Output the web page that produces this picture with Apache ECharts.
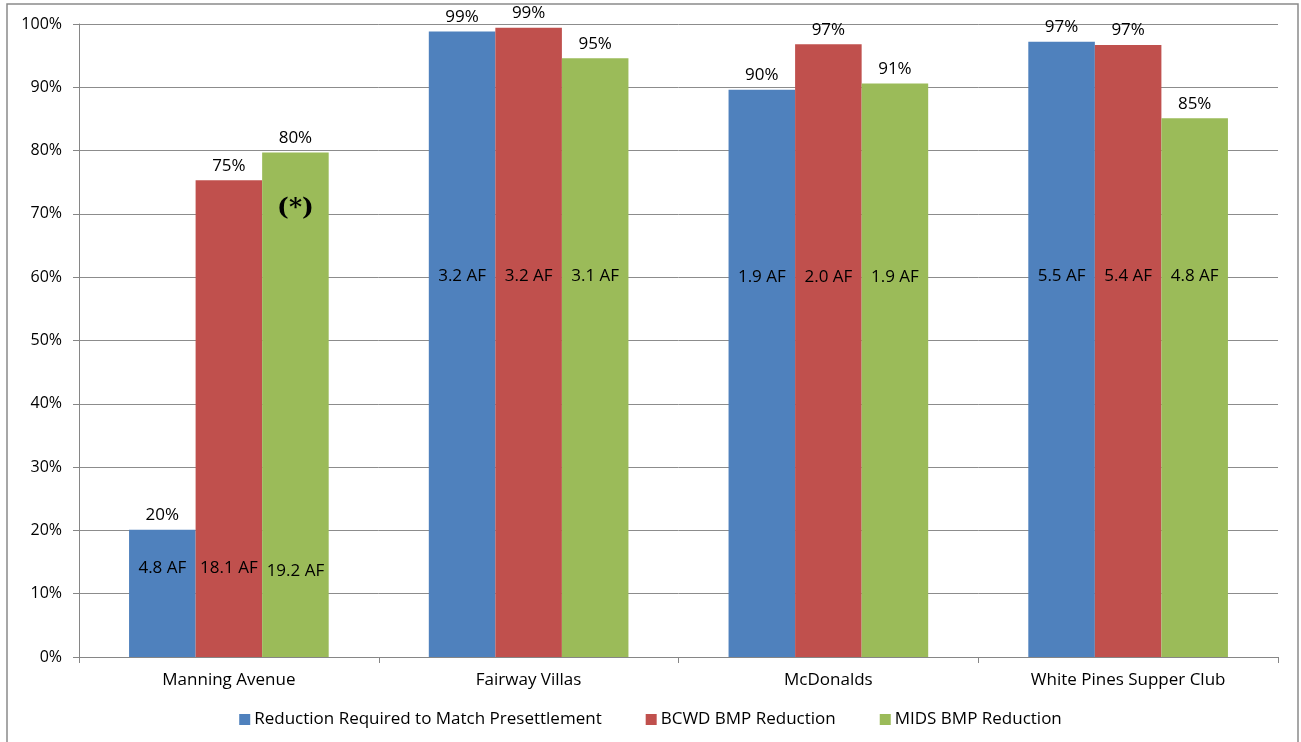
<!DOCTYPE html>
<html>
<head>
<meta charset="utf-8">
<script src="https://cdn.jsdelivr.net/npm/echarts@6/dist/echarts.min.js"></script>
<style>
  html, body { margin: 0; padding: 0; background: #fff; }
  #chart { width: 1301px; height: 742px; }
</style>
</head>
<body>
<div id="chart"></div>
<script>
// Sites compared
const categories = ['Manning Avenue', 'Fairway Villas', 'McDonalds', 'White Pines Supper Club'];

// Percent reductions per site
const requiredReduction = [20.1, 98.8, 89.6, 97.2];
const bcwdReduction = [75.3, 99.4, 96.8, 96.7];
const midsReduction = [79.7, 94.6, 90.6, 85.1];

// Volumes (acre-feet) written inside each bar
const requiredAF = [4.8, 3.2, 1.9, 5.5];
const bcwdAF = [18.1, 3.2, 2.0, 5.4];
const midsAF = [19.2, 3.1, 1.9, 4.8];

const yTicks = [0, 10, 20, 30, 40, 50, 60, 70, 80, 90, 100];
const seriesNames = ['Reduction Required to Match Presettlement', 'BCWD BMP Reduction', 'MIDS BMP Reduction'];
const colors = ['#4F81BD', '#C0504D', '#9BBB59'];

// Axis level (in %) at which the volume text sits for each site
const volumeTextLevel = [14, 60.2, 60, 60.2];

const FONT = '"Open Sans", sans-serif';

function volumeMarks(vols, nudge) {
  return vols.map((v, i) => ({
    coord: [i, volumeTextLevel[i] + (nudge ? nudge[i] : 0)],
    value: v.toFixed(1) + ' AF'
  }));
}

function barSeries(idx, values, vols, nudge, extra) {
  const marks = volumeMarks(vols, nudge);
  if (extra) marks.push(extra);
  return {
    name: seriesNames[idx],
    type: 'bar',
    data: values,
    barGap: '0%',
    barCategoryGap: '33.4%',
    itemStyle: { color: colors[idx] },
    label: {
      show: true,
      position: 'top',
      distance: 6,
      fontFamily: FONT,
      fontSize: 17,
      color: '#000',
      formatter: p => Math.round(p.value) + '%'
    },
    markPoint: {
      symbol: 'circle',
      symbolSize: 0,
      silent: true,
      label: {
        show: true,
        position: 'inside',
        fontFamily: FONT,
        fontSize: 17,
        color: '#000',
        formatter: p => p.value
      },
      data: marks
    }
  };
}

const chart = echarts.init(document.getElementById('chart'), null, { renderer: 'canvas' });

chart.setOption({
  animation: false,
  backgroundColor: '#fff',
  textStyle: { fontFamily: FONT },
  graphic: [{
    type: 'rect',
    shape: { x: 7, y: 4, width: 1291, height: 800 },
    style: { fill: 'none', stroke: '#8a8a8a', lineWidth: 1.5 },
    silent: true,
    z: -1
  }],
  grid: { left: 79, right: 23, top: 24, bottom: 85 },
  legend: {
    bottom: 9,
    left: 'center',
    itemWidth: 11,
    itemHeight: 11,
    itemGap: 44,
    icon: 'rect',
    textStyle: { fontFamily: FONT, fontSize: 17, color: '#000', padding: [0, 0, 0, -1] },
    data: seriesNames
  },
  xAxis: {
    type: 'category',
    data: categories,
    axisLine: { lineStyle: { color: '#868686', width: 1 } },
    axisTick: { show: true, length: 6, lineStyle: { color: '#868686' } },
    axisLabel: { color: '#000', fontFamily: FONT, fontSize: 17, margin: 15 }
  },
  yAxis: {
    type: 'value',
    min: yTicks[0],
    max: yTicks[yTicks.length - 1],
    interval: yTicks[1] - yTicks[0],
    axisLine: { show: true, lineStyle: { color: '#868686', width: 1 } },
    axisTick: { show: true, length: 6, lineStyle: { color: '#868686' } },
    splitLine: { lineStyle: { color: '#8c8c8c', width: 1 } },
    axisLabel: { color: '#000', fontFamily: FONT, fontSize: 16, margin: 17, formatter: v => v + '%' }
  },
  series: [
    barSeries(0, requiredReduction, requiredAF, null),
    barSeries(1, bcwdReduction, bcwdAF, null),
    barSeries(2, midsReduction, midsAF, [-0.5, 0, 0, 0], {
      coord: [0, 70.8],
      value: '(*)',
      label: {
        fontFamily: '"DejaVu Serif", "Liberation Serif", serif',
        fontSize: 25,
        fontWeight: 'bold',
        color: '#000'
      }
    })
  ]
});
</script>
</body>
</html>
